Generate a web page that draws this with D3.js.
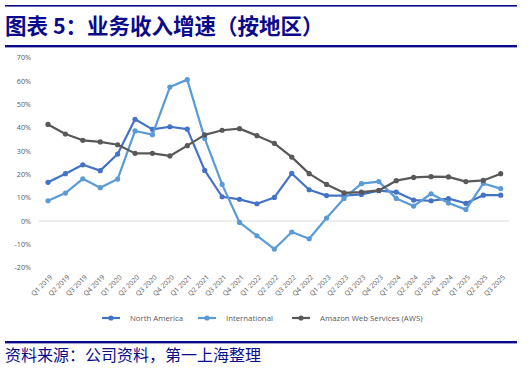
<!DOCTYPE html>
<html><head><meta charset="utf-8">
<script src="https://cdn.jsdelivr.net/npm/d3@7"></script>
<style>body{margin:0;background:#fff}svg{display:block}</style>
</head><body>
<svg id="c" width="529" height="368"></svg>
<script>
const quarters = ["Q1 2019","Q2 2019","Q3 2019","Q4 2019","Q1 2020","Q2 2020","Q3 2020","Q4 2020","Q1 2021","Q2 2021","Q3 2021","Q4 2021","Q1 2022","Q2 2022","Q3 2022","Q4 2022","Q1 2023","Q2 2023","Q3 2023","Q4 2023","Q1 2024","Q2 2024","Q3 2024","Q4 2024","Q1 2025","Q2 2025","Q3 2025"];
const northAmerica = [16.6,20.3,24.1,21.6,28.7,43.6,39.3,40.4,39.4,21.7,10.4,9.3,7.4,10.1,20.4,13.4,10.9,10.9,11.4,13.0,12.4,9.0,8.7,9.6,7.6,11.1,11.1];
const international = [8.7,12.0,18.1,14.3,18.0,38.6,37.0,57.4,60.6,35.4,15.7,-0.6,-6.3,-12.0,-4.7,-7.6,1.3,9.7,16.0,16.9,9.7,6.4,11.7,7.7,4.9,16.1,13.9];
const aws = [41.4,37.3,34.6,33.9,32.7,29.0,29.0,27.9,32.3,36.9,38.9,39.6,36.6,33.3,27.4,20.3,15.7,12.1,12.4,13.1,17.3,18.7,19.0,18.9,16.9,17.4,20.3];
const seriesNames = ["North America","International","Amazon Web Services (AWS)"];
const seriesColors = ["#4472C4","#5B9BD5","#595959"];
const yTicks = [-20,-10,0,10,20,30,40,50,60,70];
const title = "图表 5：业务收入增速（按地区）";
const source = "资料来源：公司资料，第一上海整理";

const svg = d3.select("#c");
const navy = "#0a0a8a";
// header
svg.append("rect").attr("x",5).attr("y",5).attr("width",512).attr("height",1.6).attr("fill",navy);
svg.append("text").attr("x",5).attr("y",33.5).attr("fill",navy)
  .attr("font-family","'Noto Sans CJK SC'").attr("font-weight","bold").attr("font-size",21.5).text(title);
svg.append("rect").attr("x",5).attr("y",45).attr("width",512).attr("height",2.4).attr("fill",navy);
// footer
svg.append("rect").attr("x",5).attr("y",341).attr("width",512).attr("height",2.4).attr("fill",navy);
svg.append("text").attr("x",5).attr("y",361).attr("fill",navy)
  .attr("font-family","'Noto Sans CJK SC'").attr("font-size",16).text(source);

const x = d3.scalePoint().domain(quarters).range([48,500.7]);
const y = d3.scaleLinear().domain([-20,70]).range([267.7,57.7]);

// y labels
svg.append("g").selectAll("text").data(yTicks).join("text")
  .attr("x",31).attr("y",d=>y(d)).attr("dy","0.35em").attr("text-anchor","end")
  .attr("font-family","'Open Sans',sans-serif").attr("font-size",7.2).attr("fill","#595959")
  .text(d=>d+"%");
// zero line
svg.append("line").attr("x1",39).attr("x2",509).attr("y1",y(0)).attr("y2",y(0))
  .attr("stroke","#d9d9d9").attr("stroke-width",1);
// x labels
svg.append("g").selectAll("text").data(quarters).join("text")
  .attr("transform",d=>`translate(${x(d)+3},${276}) rotate(-45)`)
  .attr("text-anchor","end").attr("dy","0.35em")
  .attr("font-family","'Open Sans',sans-serif").attr("font-size",6.8).attr("fill","#595959")
  .text(d=>d);

const allSeries = [northAmerica, international, aws];
allSeries.forEach((vals,i)=>{
  const line = d3.line().x((d,j)=>x(quarters[j])).y(d=>y(d));
  svg.append("path").datum(vals).attr("d",line).attr("fill","none")
    .attr("stroke",seriesColors[i]).attr("stroke-width",2.2).attr("stroke-linejoin","round");
  svg.append("g").selectAll("circle").data(vals).join("circle")
    .attr("cx",(d,j)=>x(quarters[j])).attr("cy",d=>y(d)).attr("r",2.6).attr("fill",seriesColors[i]);
});

// legend
const legX = [102,198,292];
seriesNames.forEach((n,i)=>{
  const g = svg.append("g").attr("transform",`translate(${legX[i]},318)`);
  g.append("line").attr("x1",0).attr("x2",18).attr("stroke",seriesColors[i]).attr("stroke-width",2.2);
  g.append("circle").attr("cx",9).attr("r",2.6).attr("fill",seriesColors[i]);
  g.append("text").attr("x",28).attr("dy","0.35em").attr("font-family","'Open Sans',sans-serif")
    .attr("font-size",7.8).attr("fill","#595959").text(n);
});
</script>
</body></html>
